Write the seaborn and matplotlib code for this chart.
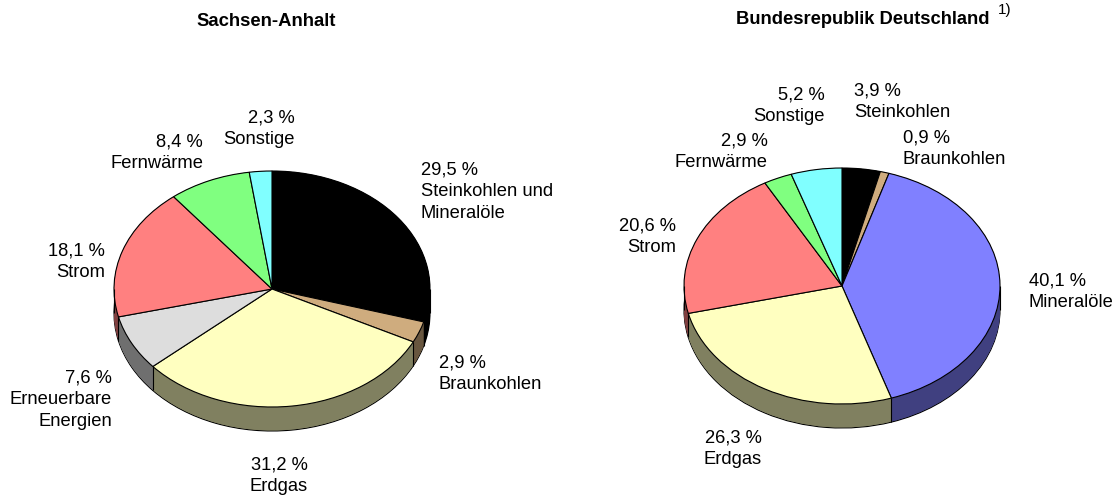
import numpy as np
import matplotlib
matplotlib.use("Agg")
import matplotlib.pyplot as plt
import seaborn as sns

W, H = 1119, 501

sa_names = ['Steinkohlen und\nMineralöle', 'Braunkohlen', 'Erdgas', 'Erneuerbare\nEnergien', 'Strom', 'Fernwärme', 'Sonstige']
sa_values = [29.5, 2.9, 31.2, 7.6, 18.1, 8.4, 2.3]
sa_colors = ['#000000', '#CFAC7E', '#FFFFC0', '#DDDDDD', '#FF8080', '#80FF80', '#80FFFF']

de_names = ['Steinkohlen', 'Braunkohlen', 'Mineralöle', 'Erdgas', 'Strom', 'Fernwärme', 'Sonstige']
de_values = [3.9, 0.9, 40.1, 26.3, 20.6, 2.9, 5.2]
de_colors = ['#000000', '#CFAC7E', '#8080FF', '#FFFFC0', '#FF8080', '#80FF80', '#80FFFF']

# label anchors in pixels: x, y centre, alignment
sa_pos = [(421, 192, 'left'), (439, 374, 'left'), (308, 476, 'right'), (112, 400, 'right'),
          (105, 262, 'right'), (203, 153, 'right'), (295, 129, 'right')]
de_pos = [(854, 102, 'left'), (903, 149, 'left'), (1029, 292, 'left'), (762, 449, 'right'),
          (676, 237, 'right'), (768, 152, 'right'), (825, 106, 'right')]

sns.set_style("white")
plt.rcParams['font.family'] = ['Liberation Sans', 'DejaVu Sans']

fig = plt.figure(figsize=(W / 100, H / 100), dpi=100)


def pie3d(values, colors, cx, cy, rx=158, ry=118, depth=24):
    ax = fig.add_axes([(cx - rx) / W, 1 - (cy + ry) / H, 2 * rx / W, 2 * ry / H])
    d = depth / ry
    dark = [tuple(c * 0.5 for c in col) for col in sns.color_palette(colors)]
    common = dict(startangle=90, counterclock=False, radius=1)

    # bottom rim, then the side built up in layers
    ax.pie(values, colors=dark, center=(0, -d),
           wedgeprops=dict(edgecolor='black', linewidth=0.8, clip_on=False), **common)
    for off in np.linspace(d, 0, depth * 2)[1:]:
        ax.pie(values, colors=dark, center=(0, -off),
               wedgeprops=dict(edgecolor='none', clip_on=False), **common)

    # vertical edges on the visible side
    bounds = np.cumsum([0] + values) / sum(values) * 2 * np.pi
    for b in bounds:
        if np.cos(b) < 0:
            ax.vlines(np.sin(b), np.cos(b) - d, np.cos(b), color='black', lw=0.8, clip_on=False)
    ax.vlines([-1, 1], -d, 0, color='black', lw=0.8, clip_on=False)

    ax.pie(values, colors=colors,
           wedgeprops=dict(edgecolor='black', linewidth=0.8, clip_on=False), **common)
    ax.set_aspect('auto')
    ax.set_xlim(-1, 1)
    ax.set_ylim(-1, 1)
    ax.axis('off')


def labels(names, values, pos):
    for name, v, (x, y, ha) in zip(names, values, pos):
        txt = f"{v:.1f} %".replace('.', ',') + "\n" + name
        fig.text(x / W, 1 - y / H, txt, ha=ha, va='center', fontsize=13.2, linespacing=1.37, color='black')


pie3d(sa_values, sa_colors, 272, 289)
pie3d(de_values, de_colors, 842, 286)
labels(sa_names, sa_values, sa_pos)
labels(de_names, de_values, de_pos)

fig.text(266 / W, 1 - 21 / H, 'Sachsen-Anhalt', ha='center', va='center', fontsize=13.3, fontweight='bold', color='black')
fig.text(736 / W, 1 - 20 / H, 'Bundesrepublik Deutschland', ha='left', va='center', fontsize=13.2, fontweight='bold', color='black')
fig.text(998 / W, 1 - 10 / H, '1)', ha='left', va='center', fontsize=11, color='black')

fig.savefig('out.png', dpi=100)
